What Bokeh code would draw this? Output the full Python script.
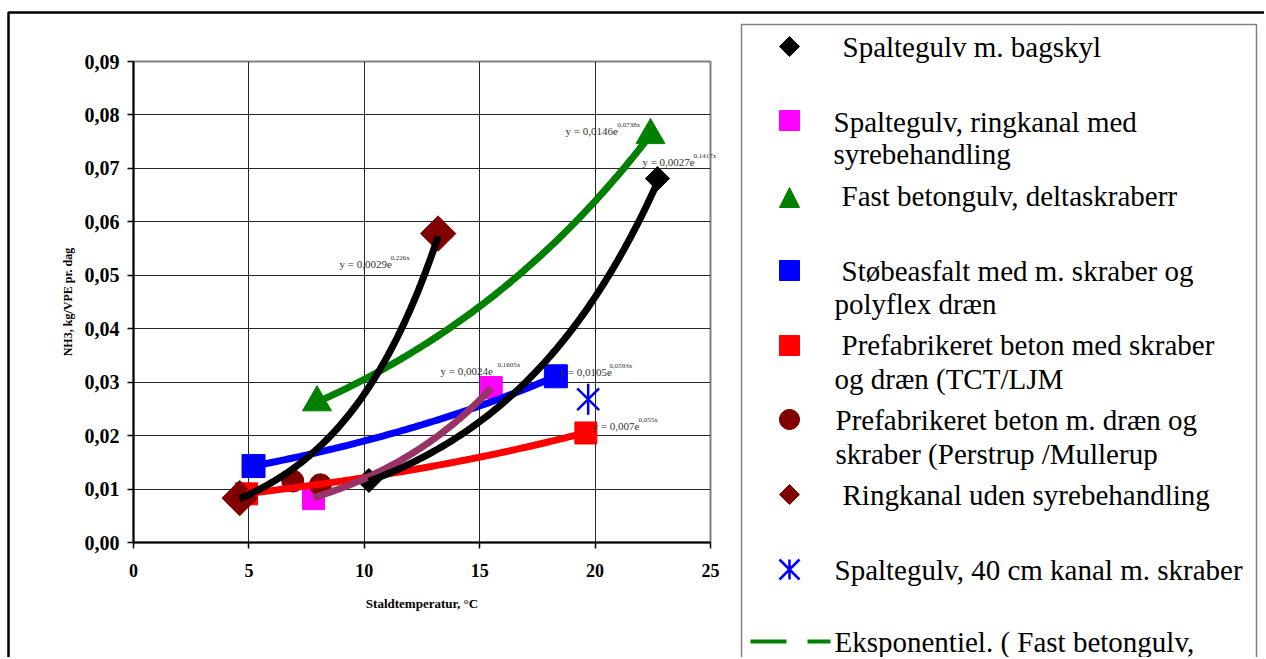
import numpy as np
from bokeh.plotting import figure
from bokeh.models import Range1d, FixedTicker, CustomJSTickFormatter, ColumnDataSource
from bokeh.embed import file_html
from bokeh.resources import INLINE
from bokeh.core.properties import value

# ---------------- data ----------------
x_ticks = [0, 5, 10, 15, 20, 25]
y_ticks = [0.00, 0.01, 0.02, 0.03, 0.04, 0.05, 0.06, 0.07, 0.08, 0.09]

x_title = "Staldtemperatur, °C"
y_title = "NH3, kg/VPE pr. dag"

# Spaltegulv m. bagskyl
bagskyl_x = [10.2, 22.7]
bagskyl_y = [0.0116, 0.0681]
# Spaltegulv, ringkanal med syrebehandling
ring_syre_x = [7.8, 15.5]
ring_syre_y = [0.0082, 0.0290]
# Fast betongulv, deltaskraberr
fast_x = [7.95, 22.4]
fast_y = [0.0262, 0.0762]
# Støbeasfalt med m. skraber og polyflex dræn
stobe_x = [5.2, 18.3]
stobe_y = [0.0143, 0.0311]
# Prefabrikeret beton med skraber og dræn (TCT/LJM
tct_x = [4.9, 19.6]
tct_y = [0.0091, 0.0205]
# Prefabrikeret beton m. dræn og skraber (Perstrup /Mullerup
perstrup_x = [6.9, 8.1]
perstrup_y = [0.0115, 0.0108]
# Ringkanal uden syrebehandling
ring_uden_x = [4.6, 13.2]
ring_uden_y = [0.0083, 0.0578]
# Spaltegulv, 40 cm kanal m. skraber
kanal40_x = [19.7]
kanal40_y = [0.0268]

# exponential trendlines  y = a * e^(b x)  (as printed on the chart)
trend_a = [0.0027, 0.0024, 0.0146, 0.0105, 0.007, 0.0029]
trend_b = [0.1417, 0.1605, 0.0738, 0.0593, 0.055, 0.226]
trend_main = ["y = 0,0027e", "y = 0,0024e", "y = 0,0146e", "y = 0,0105e", "y = 0,007e", "y = 0,0029e"]
trend_sup = ["0,1417x", "0,1605x", "0,0738x", "0,0593x", "0,055x", "0,226x"]
trend_from = [bagskyl_x, ring_syre_x, fast_x, stobe_x, tct_x, ring_uden_x]

legend_labels = [
    ["Spaltegulv m. bagskyl"],
    ["Spaltegulv, ringkanal med", "syrebehandling"],
    ["Fast betongulv, deltaskraberr"],
    ["Støbeasfalt med m. skraber og", "polyflex dræn"],
    ["Prefabrikeret  beton med skraber", "og dræn (TCT/LJM"],
    ["Prefabrikeret beton m. dræn og", "skraber (Perstrup /Mullerup"],
    ["Ringkanal uden syrebehandling"],
    ["Spaltegulv, 40 cm kanal m. skraber"],
    ["Eksponentiel. ( Fast betongulv,"],
]

# ---------------- styles / layout ----------------
FONT = "Liberation Serif"
BLACK = "#000000"
MAGENTA = "#FF00FF"
GREEN = "#008000"
BLUE = "#0000FF"
RED = "#FF0000"
DARKRED = "#800000"
MAUVE = "#993366"
trend_colors = [BLACK, MAUVE, GREEN, BLUE, RED, BLACK]
draw_order = [3, 4, 2, 1, 0, 5]

W, H = 1264, 657
FL, FR, FT, FB = 133, 710, 61, 542   # plot-area edges in page pixels

# label anchor (data coords) + superscript offset in px
lab_x = [22.05, 13.30, 18.72, 18.46, 19.89, 8.93]
lab_y = [0.0707, 0.0316, 0.0765, 0.03125, 0.0213, 0.0516]
sup_dx = [51, 57, 52, 50, 46, 51]

p = figure(width=W, height=H, x_range=Range1d(0, 25), y_range=Range1d(0, 0.09),
           output_backend="svg", toolbar_location=None,
           min_border_left=FL, min_border_right=W - FR, min_border_top=FT, min_border_bottom=H - FB,
           background_fill_color="white", border_fill_color="white",
           outline_line_color="#808080", outline_line_width=2)
# pixel ranges for the decoration (legend panel, outer frame)
p.extra_x_ranges = {"px": Range1d(FL, FR)}
p.extra_y_ranges = {"py": Range1d(FB, FT)}

p.xaxis.ticker = FixedTicker(ticks=x_ticks, minor_ticks=[])
p.yaxis.ticker = FixedTicker(ticks=y_ticks, minor_ticks=[])
p.xgrid.ticker = FixedTicker(ticks=x_ticks, minor_ticks=[])
p.ygrid.ticker = FixedTicker(ticks=y_ticks, minor_ticks=[])
p.yaxis.formatter = CustomJSTickFormatter(code="return tick.toFixed(2).replace('.', ',');")
p.grid.grid_line_color = "#262626"
p.grid.grid_line_width = 1

for ax in (p.xaxis, p.yaxis):
    ax.axis_line_color = BLACK
    ax.axis_line_width = 2
    ax.major_tick_line_color = BLACK
    ax.major_tick_line_width = 1.5
    ax.major_tick_out = 6
    ax.major_tick_in = 0
    ax.minor_tick_line_color = None
    ax.major_label_text_font = FONT
    ax.major_label_text_font_style = "bold"
    ax.major_label_text_color = BLACK
    ax.axis_label_text_font = FONT
    ax.axis_label_text_font_style = "bold"
    ax.axis_label_text_color = BLACK

p.yaxis.major_label_text_font_size = "20px"
p.xaxis.major_label_text_font_size = "18px"
p.yaxis.major_label_standoff = 8
p.xaxis.major_label_standoff = 15
p.xaxis.axis_label = x_title
p.yaxis.axis_label = y_title
p.xaxis.axis_label_text_font_size = "13px"
p.yaxis.axis_label_text_font_size = "12px"
p.xaxis.axis_label_standoff = 16
p.yaxis.axis_label_standoff = 7

# markers (drawn below trendlines, as in the original)
p.scatter(stobe_x, stobe_y, marker="square", size=23, color=BLUE)
p.scatter(tct_x, tct_y, marker="square", size=22, color=RED)
p.scatter(ring_syre_x, ring_syre_y, marker="square", size=22, color=MAGENTA)
p.scatter(perstrup_x, perstrup_y, marker="circle", size=22, color=DARKRED)
p.scatter(fast_x, fast_y, marker="triangle", size=29, color=GREEN)
p.scatter(bagskyl_x, bagskyl_y, marker="square", angle=np.pi / 4, size=17, color=BLACK)
p.scatter(ring_uden_x, ring_uden_y, marker="square", angle=np.pi / 4, size=25, color=DARKRED)

# trendlines
for i in draw_order:
    xs = np.linspace(min(trend_from[i]), max(trend_from[i]), 80)
    ys = trend_a[i] * np.exp(trend_b[i] * xs)
    p.line(xs, ys, line_width=7, color=trend_colors[i])

# 40 cm kanal: star marker
p.scatter(kanal40_x, kanal40_y, marker="x", size=31, line_color=BLUE, line_width=2.5)
p.scatter(kanal40_x, kanal40_y, marker="dash", angle=np.pi / 2, size=31, line_color=BLUE, line_width=2.5)

# trend equations (may reach past the plot area, as in the original)
src = ColumnDataSource(dict(x=lab_x, y=lab_y, t=trend_main, s=trend_sup, dx=sup_dx))
p.text(x="x", y="y", text="t", source=src, y_offset=-3, text_font=value(FONT), text_font_size="11px",
       text_color="#333333", text_baseline="alphabetic", text_align="left", level="overlay")
p.text(x="x", y="y", text="s", source=src, x_offset="dx", y_offset=-9, text_font=value(FONT),
       text_font_size="7px", text_color="#333333", text_baseline="alphabetic", text_align="left",
       level="overlay")

# ---------------- outer frame + legend panel (page-pixel coordinates) ----------------
deco = dict(x_range_name="px", y_range_name="py", level="overlay")

p.line([8, 8, W + 10], [H + 10, 12, 12], line_color=BLACK, line_width=2.5, **deco)
p.line([741, 741, 1256, 1256], [H + 10, 24, 24, H + 10], line_color="#808080", line_width=1.5, **deco)

leg_marker_x = 789
leg_marker_y = [46, 120, 197, 270, 345, 419, 494, 569]
leg_text_x = [[842], [833, 833], [841], [841, 834], [841, 834], [835, 835], [842], [834], [834]]
leg_text_y = [[55], [130, 162], [204], [279, 312], [353, 387], [428, 462], [503], [578], [650]]
TEXT_SHIFT = -9
HS = 10  # half size of the legend symbols


def diamond(cx, cy, r):
    return [cx, cx + r, cx, cx - r], [cy - r, cy, cy + r, cy]


def square(cx, cy, r):
    return [cx - r, cx + r, cx + r, cx - r], [cy - r, cy - r, cy + r, cy + r]


def triangle(cx, cy, r):
    return [cx - r, cx + r, cx], [cy + r, cy + r, cy - r]


def disc(cx, cy, r):
    t = np.linspace(0, 2 * np.pi, 40, endpoint=False)
    return list(cx + r * np.cos(t)), list(cy + r * np.sin(t))


legend_symbols = [
    (diamond, BLACK), (square, MAGENTA), (triangle, GREEN), (square, BLUE),
    (square, RED), (disc, DARKRED), (diamond, DARKRED),
]
for k, (shape, col) in enumerate(legend_symbols):
    sx, sy = shape(leg_marker_x, leg_marker_y[k], HS)
    p.patch(sx, sy, fill_color=col, line_color=col, line_width=1, **deco)

cx, cy = leg_marker_x, leg_marker_y[7]
p.line([cx - HS, cx + HS, np.nan, cx - HS, cx + HS, np.nan, cx, cx],
       [cy - HS, cy + HS, np.nan, cy + HS, cy - HS, np.nan, cy - HS, cy + HS],
       line_color=BLUE, line_width=2.5, **deco)
p.line([750, 830], [641, 641], line_color=GREEN, line_width=4, line_dash="36 21", **deco)

tx, ty, tt = [], [], []
for k, lines in enumerate(legend_labels):
    for j, s in enumerate(lines):
        tx.append(leg_text_x[k][j])
        ty.append(leg_text_y[k][j] + TEXT_SHIFT)
        tt.append(s)
p.text(x=tx, y=ty, text=tt, text_font=value(FONT), text_font_size="29px", text_color=BLACK,
       text_baseline="alphabetic", text_align="left", **deco)

open("out.html", "w").write(file_html(p, INLINE))
